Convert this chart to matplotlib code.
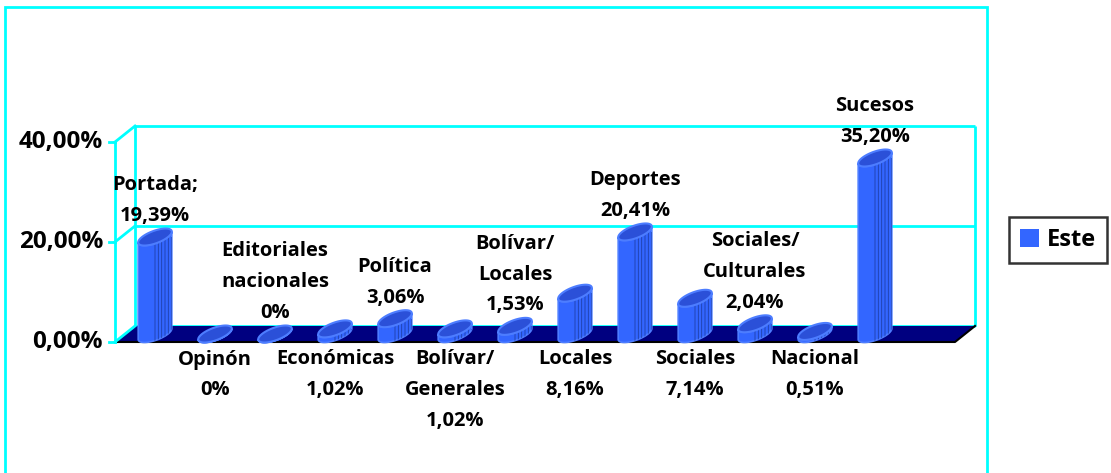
import matplotlib
matplotlib.use("Agg")
import matplotlib.pyplot as plt
import numpy as np
from matplotlib.patches import Polygon, Rectangle, Patch

plt.rcParams["font.family"] = ["Open Sans", "DejaVu Sans"]
plt.rcParams["font.weight"] = "bold"
plt.rcParams["hatch.linewidth"] = 0.6

# datos
categorias = ["Portada;", "Opinón", "Editoriales\nnacionales", "Económicas", "Política",
              "Bolívar/\nGenerales", "Bolívar/\nLocales", "Locales", "Deportes", "Sociales",
              "Sociales/\nCulturales", "Nacional", "Sucesos"]
valores = [19.39, 0, 0, 1.02, 3.06, 1.02, 1.53, 8.16, 20.41, 7.14, 2.04, 0.51, 35.20]
ticks_y = [0, 20, 40]
serie = "Este"

CIAN = "#00FFFF"
AZUL = "#3366FF"
AZUL_BORDE = "#4D7DFF"
AZUL_TAPA = "#2B50D8"
AZUL_RAYA = "#1E3FA8"
PISO = "#000080"

# media profundidad del "3D" (categorías, %) y límites de las paredes
DX, DY = 1 / 6, 1.6
X0, X1 = -0.5, 13.5
# semiejes del cilindro
A, BX, BY = 0.217, 0.177, 1.7


def fmt(v):
    return "0%" if v == 0 else f"{v:.2f}%".replace(".", ",")


def tick_fmt(t):
    return f"{t:.2f}%".replace(".", ",")


fig = plt.figure(figsize=(11.11, 4.73), dpi=100)
ax = fig.add_axes([0, 0, 1, 1])
ax.set_xlim(-2.5833, 15.9333)
ax.set_ylim(-27.8, 66.8)
ax.axis("off")

# piso
piso = Polygon([(X0 - DX, -DY), (X1 - DX, -DY), (X1 + DX, DY), (X0 + DX, DY)],
               closed=True, facecolor=PISO, edgecolor="none", zorder=2)
ax.add_patch(piso)
ax.plot([X0 - DX, X1 - DX, X1 + DX], [-DY, -DY, DY], color="black", lw=1.5, zorder=2.5)

# pared del fondo y pared lateral
kw = dict(color=CIAN, lw=2, zorder=1, solid_capstyle="butt")
top = max(ticks_y)
for t in ticks_y:
    ax.plot([X0 + DX, X1 + DX], [t + DY, t + DY], **kw)
    ax.plot([X0 - DX, X0 + DX], [t - DY, t + DY], color=CIAN, lw=2, zorder=3)
    ax.plot([X0 - DX - 0.1, X0 - DX], [t - DY, t - DY], color=CIAN, lw=2, zorder=3)
    ax.text(X0 - DX - 0.2, t - DY, tick_fmt(t), ha="right", va="center",
            fontsize=17.5, fontweight="bold", zorder=6)
ax.plot([X0 + DX, X0 + DX], [DY, top + DY], **kw)
ax.plot([X1 + DX, X1 + DX], [DY, top + DY], **kw)
ax.plot([X0 - DX, X0 - DX], [-DY, top - DY], color=CIAN, lw=2, zorder=3)

# cilindros
th0 = np.arctan2(BX, A)
arco = np.linspace(th0 - np.pi, th0, 60)
vuelta = np.linspace(0, 2 * np.pi, 120)
for i, v in enumerate(valores):
    bx = i + A * np.cos(arco) + BX * np.sin(arco)
    by = BY * np.sin(arco)
    pts = np.column_stack([np.r_[bx, bx[::-1]], np.r_[by, (by + v)[::-1]]])
    cuerpo = Polygon(pts, closed=True, facecolor=AZUL, edgecolor=AZUL_BORDE,
                     lw=1.2, zorder=4 + i * 0.01)
    ax.add_patch(cuerpo)
    rayas = Rectangle((i - 0.02, -3), 0.32, v + 3, facecolor="none", edgecolor=AZUL_RAYA,
                      lw=0, hatch="|||||", zorder=4 + i * 0.01 + 0.001)
    ax.add_patch(rayas)
    rayas.set_clip_path(cuerpo)
    tx = i + A * np.cos(vuelta) + BX * np.sin(vuelta)
    ty = v + BY * np.sin(vuelta)
    tapa = Polygon(np.column_stack([tx, ty]), closed=True, facecolor=AZUL_TAPA,
                   edgecolor=AZUL_BORDE, lw=1.5, zorder=4 + i * 0.01 + 0.002)
    ax.add_patch(tapa)

# etiquetas de datos, alternando arriba y abajo
for i, (cat, v) in enumerate(zip(categorias, valores)):
    texto = f"{cat}\n{fmt(v)}"
    if i % 2 == 0:
        ax.text(i, v + 2.2, texto, ha="center", va="bottom", fontsize=14.5,
                fontweight="bold", linespacing=1.72, zorder=6)
    else:
        ax.text(i, -3.1, texto, ha="center", va="top", fontsize=14.5,
                fontweight="bold", linespacing=1.72, zorder=6)

# leyenda
leg = fig.legend(handles=[Patch(facecolor=AZUL, label=serie)], loc="center",
                 bbox_to_anchor=(1058 / 1111, 1 - 240 / 473), frameon=True, fancybox=False,
                 edgecolor="black", fontsize=17, handlelength=0.8, handleheight=0.8,
                 handletextpad=0.35, borderpad=0.45)
leg.get_frame().set_linewidth(1.8)

# marco exterior
fig.add_artist(Rectangle((5 / 1111, -0.1), 982 / 1111, 1 - 7 / 473 + 0.1,
                         transform=fig.transFigure, fill=False, edgecolor=CIAN, lw=2))

fig.savefig("out.png", dpi=100)
